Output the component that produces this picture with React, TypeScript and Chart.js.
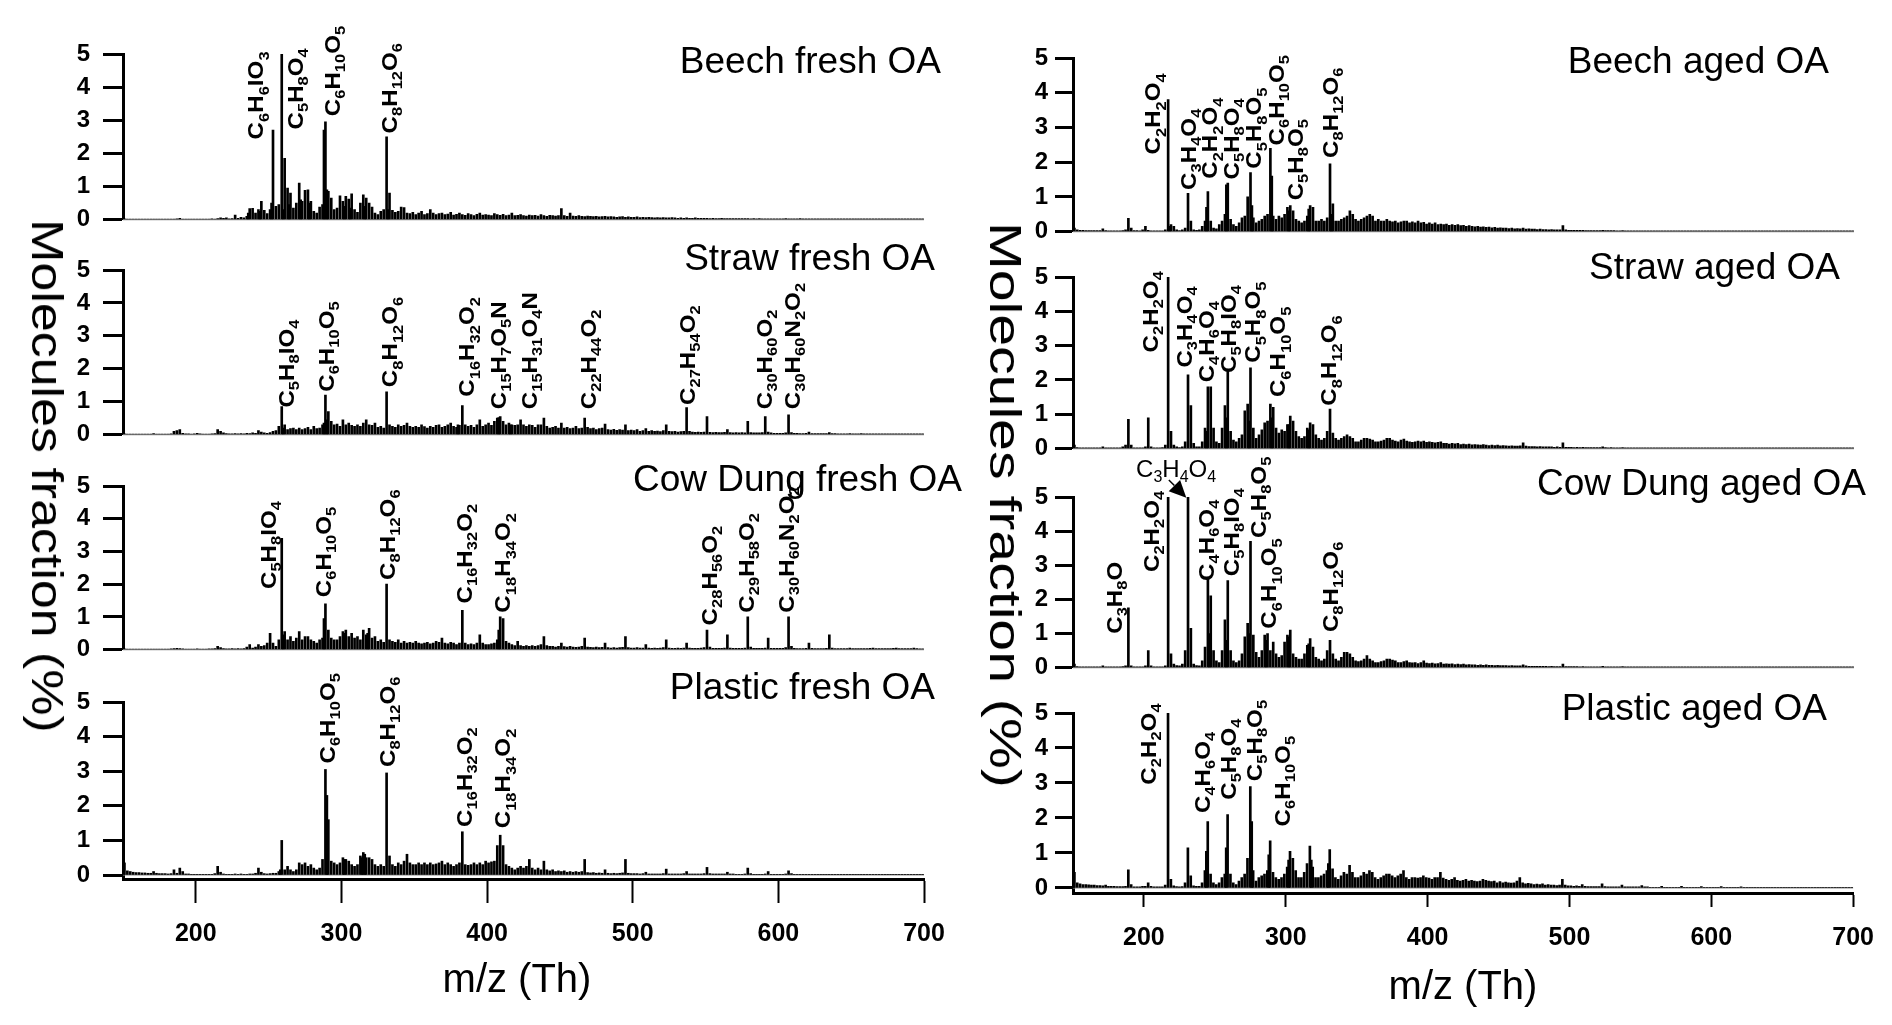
import React, { useEffect, useRef } from "react";
import { Chart, registerables } from "chart.js";
Chart.register(...registerables);

const FONT = "'Liberation Sans', Arial, Helvetica, sans-serif";
const FIRST_MZ = 151;
const ROW_SPAN = 50;
const STEP = 2;
const X_MIN = 150;
const X_MAX = 700;
const X_TICKS = [200, 300, 400, 500, 600, 700];
const Y_TICKS = [0, 1, 2, 3, 4, 5];

// ---- Beech fresh OA: odd m/z 151..699, rows of 50 Th ----
const beechFreshOdd = [
  [.02,.01,.01,.01,.01,.01,.01,.01,.01,.01,.01,.01,.01,.01,.01,.01,.01,.01,.02,.04,.01,.01,.01,.01,.01],
  [.01,.01,.01,.01,.01,.02,.01,.03,.05,.04,.05,.02,.03,.14,.04,.07,.05,.1,.33,.34,.2,.3,.55,.28,.18],
  [.3,2.7,.4,.45,5,1.85,.95,.8,.35,.5,1.1,.55,.88,.9,.55,.25,.2,.38,.45,2.95,.85,.65,.3,.35,.72],
  [.55,.7,.62,.78,.3,.22,.5,.75,.65,.5,.38,.2,.15,.25,.3,2.5,.8,.28,.22,.25,.38,.36,.2,.18,.22],
  [.15,.2,.25,.15,.18,.3,.2,.15,.18,.2,.15,.17,.22,.14,.16,.2,.15,.13,.18,.15,.12,.16,.2,.14,.15],
  [.14,.12,.18,.15,.13,.16,.12,.14,.2,.12,.13,.15,.12,.11,.14,.12,.13,.11,.15,.12,.1,.13,.12,.11,.12],
  [.33,.12,.1,.2,.11,.1,.12,.1,.09,.11,.1,.09,.1,.08,.09,.1,.08,.09,.08,.07,.08,.09,.07,.08,.07],
  [.07,.08,.06,.07,.06,.07,.06,.05,.06,.05,.06,.05,.05,.06,.05,.04,.05,.04,.05,.04,.04,.05,.04,.04,.04],
  [.04,.03,.04,.03,.03,.04,.03,.03,.03,.03,.03,.03,.03,.03,.03,.02,.03,.02,.03,.02,.02,.02,.02,.02,.02],
  [.02,.02,.03,.02,.02,.02,.02,.03,.02,.02,.02,.02,.02,.02,.02,.02,.02,.02,.02,.02,.02,.02,.02,.02,.02],
  [.02,.02,.02,.02,.02,.02,.02,.02,.02,.02,.02,.02,.02,.02,.02,.02,.02,.02,.02,.02,.02,.02,.02,.02,.02],
];
const beechFreshEven = [[236,.2],[244,.25],[252,.5],[260,.3],[264,.45],[272,.6],[278,.5],[288,2.7],[290,.9],[302,.4],[306,.35],[316,.4],[332,.3]];
const beechFreshLabels: [string, number, number][] = [
  ["C6H6IO3", 241, 2.42], ["C5H8O4", 268, 2.72], ["C6H10O5", 293.7, 3.12], ["C8H12O6", 332.6, 2.6],
];

// ---- Straw fresh OA ----
const strawFreshOdd = [
  [.02,.01,.01,.01,.01,.01,.01,.01,.01,.01,.03,.01,.01,.01,.01,.01,.02,.1,.12,.15,.04,.02,.02,.01,.02],
  [.04,.02,.01,.01,.01,.02,.03,.15,.1,.05,.03,.02,.02,.03,.02,.03,.02,.04,.03,.05,.04,.12,.08,.05,.04],
  [.06,.1,.12,.25,.85,.3,.15,.18,.2,.15,.2,.15,.18,.22,.15,.25,.18,.2,.3,1.2,.7,.4,.3,.32,.25],
  [.45,.3,.35,.28,.25,.3,.25,.35,.45,.3,.28,.35,.22,.25,.2,1.3,.3,.25,.22,.3,.25,.28,.35,.25,.22],
  [.25,.22,.3,.24,.2,.25,.22,.28,.3,.22,.25,.3,.35,.25,.22,.28,.88,.3,.25,.28,.22,.3,.45,.25,.3],
  [.35,.28,.4,.5,.55,.4,.3,.35,.3,.28,.3,.45,.3,.25,.3,.28,.22,.3,.3,.5,.25,.2,.22,.25,.2],
  [.35,.2,.22,.18,.2,.25,.18,.2,.5,.22,.18,.2,.15,.18,.2,.32,.15,.14,.16,.13,.15,.14,.3,.12,.14],
  [.12,.15,.1,.12,.18,.1,.12,.1,.11,.09,.12,.3,.1,.09,.1,.08,.09,.1,.82,.1,.08,.07,.08,.07,.08],
  [.55,.07,.06,.07,.06,.06,.07,.15,.06,.05,.06,.05,.06,.05,.4,.06,.05,.05,.05,.06,.55,.08,.05,.04,.04],
  [.04,.04,.05,.6,.06,.04,.04,.03,.03,.04,.08,.03,.03,.03,.03,.03,.03,.06,.03,.03,.02,.02,.02,.02,.03],
  [.02,.02,.02,.03,.02,.02,.02,.02,.02,.02,.02,.02,.02,.02,.02,.02,.02,.02,.02,.02,.02,.02,.02,.02,.02],
];
const strawFreshEven = [[260,.2],[288,.35],[290,.45],[380,.3],[408,.52],[416,.3]];
const strawFreshLabels: [string, number, number][] = [
  ["C5H8IO4", 262, 0.82], ["C6H10O5", 289.4, 1.3], ["C8H12O6", 332.9, 1.44], ["C16H32O2", 385.9, 1.15],
  ["C15H7O5N", 407.5, 0.77], ["C15H31O4N", 428.7, 0.77], ["C22H44O2", 469.2, 0.77], ["C27H54O2", 537.3, 0.9],
  ["C30H60O2", 590.3, 0.77], ["C30H60N2O2", 609.2, 0.77],
];

// ---- Cow Dung fresh OA ----
const cowFreshOdd = [
  [.02,.01,.01,.01,.01,.01,.01,.01,.01,.01,.01,.01,.01,.01,.01,.01,.02,.03,.04,.03,.02,.01,.01,.01,.01],
  [.02,.01,.01,.01,.02,.02,.03,.1,.06,.03,.02,.02,.03,.02,.03,.02,.03,.08,.15,.05,.08,.15,.1,.12,.2],
  [.5,.2,.1,.3,3.4,.55,.3,.4,.25,.35,.55,.3,.4,.4,.3,.25,.2,.3,.35,1.4,.6,.35,.3,.3,.4],
  [.55,.6,.4,.5,.35,.4,.3,.6,.45,.65,.35,.4,.25,.3,.22,2.0,.3,.25,.22,.3,.2,.25,.2,.22,.2],
  [.25,.2,.18,.2,.22,.18,.2,.25,.22,.35,.2,.18,.22,.2,.15,.2,1.2,.2,.15,.18,.15,.2,.45,.2,.15],
  [.15,.18,.2,.3,1.0,.95,.25,.2,.15,.12,.25,.12,.1,.12,.1,.12,.1,.12,.15,.4,.12,.1,.1,.08,.1],
  [.2,.09,.08,.1,.08,.07,.08,.1,.35,.08,.07,.06,.08,.06,.07,.2,.06,.05,.06,.05,.06,.07,.4,.06,.05],
  [.05,.06,.05,.05,.15,.05,.04,.05,.04,.05,.06,.3,.05,.04,.04,.05,.04,.05,.2,.05,.04,.04,.04,.05,.06],
  [.6,.08,.04,.04,.04,.04,.05,.45,.05,.04,.04,.04,.04,.05,1.0,.08,.04,.04,.04,.04,.05,.35,.04,.04,.04],
  [.04,.04,.06,1.0,.1,.04,.03,.03,.03,.04,.2,.04,.03,.03,.03,.03,.04,.45,.05,.03,.03,.03,.03,.03,.05],
  [.03,.03,.03,.03,.03,.03,.04,.05,.03,.03,.03,.03,.03,.03,.04,.05,.03,.03,.03,.03,.03,.05,.03,.02,.02],
];
const cowFreshEven = [[260,.45],[288,.95],[302,.5],[318,.5],[408,.6]];
const cowFreshLabels: [string, number, number][] = [
  ["C5H8IO4", 249.6, 1.85], ["C6H10O5", 287.5, 1.6], ["C8H12O6", 331, 2.13], ["C16H32O2", 384, 1.41],
  ["C18H34O2", 410.5, 1.13], ["C28H56O2", 552.5, 0.74], ["C29H58O2", 577.8, 1.13], ["C30H60N2O2", 605.4, 1.13],
];

// ---- Plastic fresh OA ----
const plasticFreshOdd = [
  [.35,.12,.1,.08,.07,.07,.06,.06,.05,.05,.1,.05,.04,.04,.04,.03,.04,.15,.05,.2,.1,.03,.03,.02,.02],
  [.02,.02,.02,.02,.02,.02,.04,.25,.08,.03,.02,.02,.02,.03,.02,.03,.02,.02,.03,.03,.05,.2,.08,.04,.03],
  [.04,.05,.05,.1,1.0,.15,.25,.15,.1,.15,.35,.3,.35,.25,.3,.2,.15,.2,.45,3.05,1.6,.4,.35,.3,.35],
  [.5,.45,.4,.3,.25,.3,.55,.65,.5,.5,.45,.3,.25,.3,.25,2.95,.55,.3,.25,.35,.3,.4,.6,.35,.3],
  [.3,.35,.3,.35,.3,.35,.3,.32,.35,.4,.3,.35,.3,.25,.3,.35,1.25,.3,.28,.3,.35,.3,.35,.3,.4],
  [.35,.38,.4,.85,1.15,.85,.3,.25,.2,.15,.2,.25,.2,.25,.45,.2,.15,.2,.15,.4,.15,.12,.15,.1,.12],
  [.1,.12,.08,.1,.08,.1,.08,.1,.45,.07,.06,.07,.05,.06,.05,.15,.05,.04,.05,.04,.05,.06,.45,.05,.04],
  [.04,.04,.03,.04,.08,.03,.03,.03,.03,.03,.04,.17,.03,.03,.03,.03,.03,.04,.1,.03,.03,.03,.03,.03,.04],
  [.22,.04,.03,.03,.03,.03,.03,.08,.03,.03,.02,.02,.02,.03,.2,.04,.02,.02,.02,.02,.03,.1,.02,.02,.02],
  [.02,.02,.03,.12,.04,.02,.02,.02,.02,.02,.02,.02,.02,.02,.02,.02,.02,.02,.02,.02,.02,.02,.02,.02,.02],
  [.02,.02,.02,.02,.02,.02,.02,.02,.02,.02,.02,.02,.02,.02,.02,.02,.02,.02,.02,.02,.02,.02,.02,.02,.02],
];
const plasticFreshEven = [[258,.15],[290,2.3],[302,.45],[314,.5],[316,.6]];
const plasticFreshLabels: [string, number, number][] = [
  ["C6H10O5", 290, 3.22], ["C8H12O6", 331, 3.12], ["C16H32O2", 384, 1.39], ["C18H34O2", 410.5, 1.35],
];

// ---- Beech aged OA ----
const beechAgedOdd = [
  [.1,.05,.04,.04,.03,.03,.03,.03,.03,.03,.08,.03,.02,.02,.02,.02,.02,.03,.05,.38,.1,.03,.03,.02,.05],
  [.15,.04,.02,.02,.02,.02,.02,.05,3.8,.2,.15,.05,.03,.05,.1,1.1,.3,.05,.04,.05,.15,.3,1.15,.3,.1],
  [.08,.2,.3,.5,1.4,.35,.2,.15,.25,.4,.45,1.0,1.7,.4,.25,.3,.35,.45,.5,2.4,.45,.35,.45,.4,.5],
  [.7,.75,.6,.35,.3,.25,.3,.45,.75,.7,.3,.3,.35,.3,.4,1.95,.8,.3,.3,.35,.4,.45,.6,.5,.35],
  [.3,.35,.4,.45,.5,.45,.3,.35,.3,.3,.35,.3,.28,.3,.25,.28,.3,.3,.25,.28,.25,.3,.25,.27,.22],
  [.25,.22,.25,.2,.22,.2,.22,.18,.2,.18,.2,.17,.18,.15,.17,.15,.14,.15,.13,.14,.12,.13,.11,.12,.1],
  [.11,.1,.1,.09,.1,.08,.09,.08,.1,.07,.08,.07,.07,.06,.07,.06,.06,.05,.06,.05,.05,.05,.17,.05,.04],
  [.04,.04,.04,.04,.04,.03,.03,.03,.03,.03,.03,.04,.03,.03,.03,.03,.02,.02,.03,.02,.02,.02,.02,.02,.02],
  [.02,.02,.02,.02,.02,.02,.02,.02,.02,.02,.02,.02,.02,.02,.02,.02,.02,.02,.02,.02,.02,.02,.02,.02,.02],
  [.02,.02,.02,.02,.02,.02,.02,.02,.02,.02,.02,.02,.02,.02,.02,.02,.02,.02,.02,.02,.02,.02,.02,.02,.02],
  [.02,.02,.02,.02,.02,.02,.02,.02,.02,.02,.02,.02,.02,.02,.02,.02,.02,.02,.02,.02,.02,.02,.02,.02,.02],
];
const beechAgedEven = [[218,.15],[244,.7],[258,1.35],[276,.75],[290,1.6],[302,.6],[316,.65],[332,.5]];
const beechAgedLabels: [string, number, number][] = [
  ["C2H2O4", 206, 2.22], ["C3H4O4", 231, 1.2], ["C2H2O4", 246, 1.52], ["C5H8O4", 261, 1.5],
  ["C5H8O5", 277, 1.81], ["C6H10O5", 293, 2.48], ["C5H8O5", 306.5, 0.9], ["C8H12O6", 331, 2.12],
];

// ---- Straw aged OA ----
const strawAgedOdd = [
  [.1,.03,.02,.02,.02,.02,.02,.02,.02,.02,.05,.02,.02,.02,.02,.02,.02,.05,.1,.85,.1,.02,.02,.02,.02],
  [.05,.9,.05,.02,.02,.02,.03,.1,5,.5,.1,.05,.03,.05,.2,2.15,1.25,.15,.05,.05,.2,.6,1.8,1.8,.6],
  [.2,.15,.6,1.25,2.3,.5,.25,.2,.3,.4,1.1,1.3,2.35,.6,.3,.4,.55,.75,.8,1.3,1.2,.6,.45,.55,.5],
  [.7,.95,.8,.5,.35,.3,.35,.6,.75,.7,.4,.3,.25,.3,.5,1.15,.45,.3,.25,.3,.35,.4,.35,.3,.2],
  [.2,.25,.3,.3,.28,.25,.2,.2,.22,.25,.3,.3,.25,.22,.2,.25,.28,.22,.2,.18,.2,.22,.2,.22,.18],
  [.2,.18,.17,.18,.2,.15,.15,.13,.15,.14,.15,.12,.13,.12,.13,.11,.12,.11,.1,.12,.1,.09,.1,.09,.1],
  [.08,.09,.08,.07,.08,.07,.07,.08,.17,.07,.06,.06,.06,.05,.06,.05,.05,.05,.05,.04,.05,.04,.17,.04,.04],
  [.04,.03,.04,.03,.04,.03,.03,.03,.03,.03,.03,.05,.03,.02,.03,.02,.02,.02,.03,.02,.02,.02,.02,.02,.02],
  [.02,.02,.02,.02,.02,.02,.02,.02,.02,.02,.02,.02,.02,.02,.02,.02,.02,.02,.02,.02,.02,.02,.02,.02,.02],
  [.02,.02,.02,.02,.02,.02,.02,.02,.02,.02,.02,.02,.02,.02,.02,.02,.02,.02,.02,.02,.02,.02,.02,.02,.02],
  [.02,.02,.02,.02,.02,.02,.02,.02,.02,.02,.02,.02,.02,.02,.02,.02,.02,.02,.02,.02,.02,.02,.02,.02,.02],
];
const strawAgedEven = [[244,.5],[258,.9],[274,.8],[290,.9],[302,.7],[316,.55]];
const strawAgedLabels: [string, number, number][] = [
  ["C2H2O4", 204.3, 2.8], ["C3H4O4", 228.3, 2.36], ["C4H6O4", 243.5, 1.93], ["C5H8IO4", 259.1, 2.2],
  ["C5H8O5", 276.3, 2.5], ["C6H10O5", 294, 1.5], ["C8H12O6", 329.9, 1.25],
];

// ---- Cow Dung aged OA ----
const cowAgedOdd = [
  [.1,.03,.02,.02,.02,.02,.02,.02,.02,.02,.05,.02,.02,.02,.02,.02,.02,.03,.05,1.75,.05,.02,.02,.02,.02],
  [.05,.5,.05,.02,.02,.02,.02,.05,5,.4,.1,.06,.05,.1,.5,5,1.15,.1,.06,.05,.2,.6,2.6,2.1,.5],
  [.2,.15,.5,1.4,2.55,.5,.2,.15,.2,.4,.9,1.3,3.7,.95,.45,.3,.5,.95,1.0,.5,.75,.4,.3,.35,.75],
  [.95,1.1,.4,.3,.25,.25,.4,.65,.85,.6,.3,.25,.2,.25,.5,.8,.4,.25,.2,.3,.45,.45,.4,.3,.2],
  [.18,.2,.25,.35,.25,.2,.15,.15,.18,.2,.25,.25,.22,.2,.15,.15,.18,.2,.15,.14,.15,.12,.15,.2,.13],
  [.12,.13,.11,.12,.15,.1,.11,.1,.11,.09,.1,.09,.1,.08,.09,.08,.08,.07,.08,.07,.08,.07,.07,.06,.07],
  [.06,.06,.06,.05,.06,.05,.05,.05,.08,.05,.04,.04,.04,.04,.04,.04,.04,.03,.04,.03,.03,.03,.1,.03,.03],
  [.03,.03,.03,.02,.03,.02,.02,.02,.02,.02,.02,.04,.02,.02,.02,.02,.02,.02,.03,.02,.02,.02,.02,.02,.02],
  [.02,.02,.02,.02,.02,.02,.02,.02,.02,.02,.02,.02,.02,.02,.02,.02,.02,.02,.02,.02,.02,.02,.02,.02,.02],
  [.02,.02,.02,.02,.02,.02,.02,.02,.02,.02,.02,.02,.02,.02,.02,.02,.02,.02,.02,.02,.02,.02,.02,.02,.02],
  [.02,.02,.02,.02,.02,.02,.02,.02,.02,.02,.02,.02,.02,.02,.02,.02,.02,.02,.02,.02,.02,.02,.02,.02,.02],
];
const cowAgedEven = [[246,1.0],[258,.8],[274,1.0],[286,.8],[302,.9],[316,.7]];
const cowAgedLabels: [string, number, number][] = [
  ["C3H8O", 179, 0.99], ["C2H2O4", 205, 2.8], ["C4H6O4", 243.5, 2.54], ["C5H8IO4", 261.2, 2.68],
  ["C5H8O5", 280.1, 3.8], ["C6H10O5", 287.7, 1.14], ["C8H12O6", 330.7, 1.04],
];
// horizontal note with arrow: [text, centre m/z, baseline value], arrow [from m/z, from value, to m/z, to value]
const cowAgedNote: [string, number, number] = ["C3H4O4", 222.6, 5.6];
const cowAgedArrow = [217.5, 5.5, 229.8, 4.98];

// ---- Plastic aged OA ----
const plasticAgedOdd = [
  [.45,.15,.12,.1,.1,.09,.08,.08,.07,.07,.06,.08,.05,.05,.05,.04,.04,.04,.05,.52,.1,.03,.03,.03,.05],
  [.05,.15,.05,.03,.03,.03,.03,.08,5,.25,.06,.04,.03,.04,.15,1.15,.35,.06,.05,.05,.15,.5,1.9,.4,.15],
  [.1,.15,.3,.4,2.1,.4,.15,.1,.2,.3,.4,.85,2.9,.5,.2,.3,.35,.4,.5,1.35,.45,.3,.25,.3,.4],
  [.6,1.05,.85,.5,.3,.3,.45,.7,1.2,.6,.3,.3,.35,.4,.5,1.1,.55,.3,.25,.35,.45,.4,.65,.45,.3],
  [.3,.35,.45,.4,.5,.45,.3,.25,.3,.35,.4,.4,.35,.3,.35,.4,.5,.3,.25,.3,.3,.28,.3,.35,.3],
  [.28,.25,.3,.3,.45,.28,.25,.22,.25,.3,.22,.2,.22,.25,.2,.22,.2,.18,.2,.25,.22,.2,.18,.2,.15],
  [.18,.15,.17,.15,.14,.15,.2,.3,.15,.12,.13,.12,.1,.11,.1,.12,.08,.1,.08,.08,.07,.08,.25,.08,.06],
  [.06,.05,.06,.05,.1,.05,.04,.04,.04,.04,.04,.12,.04,.03,.03,.03,.03,.03,.08,.03,.03,.03,.03,.03,.03],
  [.07,.03,.03,.02,.02,.02,.02,.05,.02,.02,.02,.02,.02,.02,.05,.02,.02,.02,.02,.02,.02,.04,.02,.02,.02],
  [.02,.02,.02,.04,.02,.02,.02,.02,.02,.02,.03,.02,.02,.02,.02,.02,.02,.02,.02,.02,.02,.02,.02,.02,.02],
  [.02,.02,.02,.02,.02,.02,.02,.02,.02,.02,.02,.02,.02,.02,.02,.02,.02,.02,.02,.02,.02,.02,.02,.02,.02],
];
const plasticAgedEven = [[150,.3],[244,1.05],[258,1.15],[276,1.9],[288,.95],[302,.8],[318,.8],[330,.7]];
const plasticAgedLabels: [string, number, number][] = [
  ["C2H2O4", 202.9, 2.95], ["C4H6O4", 241.1, 2.14], ["C5H8O4", 259.2, 2.52], ["C5H8O5", 277.4, 3.05],
  ["C6H10O5", 297.5, 1.76],
];

// ---------------- layout ----------------
const YW = 100, PT = 60, PB = 20, XH = 120;
const SIDES: any = {
  L: { l: 123, r: 924, yTick: 20, yPad: 13, xTick: 24, xPad: 16, pr: 50 },
  R: { l: 1073, r: 1854, yTick: 18, yPad: 7, xTick: 14, xPad: 16, pr: 36 },
};

const PANELS = [
  { key: "bf", side: "L", t: 54, b: 227, bottom: false, yMin: 0, title: "Beech fresh OA", tx: 941, ty: 73, odd: beechFreshOdd, even: beechFreshEven, labels: beechFreshLabels },
  { key: "sf", side: "L", t: 270, b: 442, bottom: false, yMin: 0, title: "Straw fresh OA", tx: 935, ty: 270, odd: strawFreshOdd, even: strawFreshEven, labels: strawFreshLabels },
  { key: "cf", side: "L", t: 486, b: 657, bottom: false, yMin: 0, title: "Cow Dung fresh OA", tx: 962, ty: 491, odd: cowFreshOdd, even: cowFreshEven, labels: cowFreshLabels },
  { key: "pf", side: "L", t: 702, b: 879, bottom: true, yMin: -0.1156, title: "Plastic fresh OA", tx: 935, ty: 699, odd: plasticFreshOdd, even: plasticFreshEven, labels: plasticFreshLabels },
  { key: "ba", side: "R", t: 58, b: 233, bottom: false, yMin: 0, title: "Beech aged OA", tx: 1829, ty: 73, odd: beechAgedOdd, even: beechAgedEven, labels: beechAgedLabels },
  { key: "sa", side: "R", t: 277, b: 450, bottom: false, yMin: 0, title: "Straw aged OA", tx: 1840, ty: 279, odd: strawAgedOdd, even: strawAgedEven, labels: strawAgedLabels },
  { key: "ca", side: "R", t: 497, b: 669, bottom: false, yMin: 0, title: "Cow Dung aged OA", tx: 1866, ty: 495, odd: cowAgedOdd, even: cowAgedEven, labels: cowAgedLabels, note: cowAgedNote, arrow: cowAgedArrow },
  { key: "pa", side: "R", t: 713, b: 893, bottom: true, yMin: -0.143, title: "Plastic aged OA", tx: 1827, ty: 720, odd: plasticAgedOdd, even: plasticAgedEven, labels: plasticAgedLabels },
];

function toPoints(rows: number[][], extra: number[][]) {
  const pts: { x: number; y: number }[] = [];
  rows.forEach((row, r) => row.forEach((v, i) => pts.push({ x: FIRST_MZ + r * ROW_SPAN + i * STEP, y: v })));
  extra.forEach(([x, y]) => pts.push({ x, y }));
  pts.sort((a, b) => a.x - b.x);
  return pts;
}

function drawFormula(ctx: CanvasRenderingContext2D, text: string, px: number, py: number, rotated: boolean, bold: boolean, size: number, subSize: number, stretch: number) {
  const parts = text.match(/[A-Z][a-z]?|\d+/g) || [];
  const w = bold ? "bold " : "";
  const mainFont = `${w}${size}px ${FONT}`;
  const subFont = `${w}${subSize}px ${FONT}`;
  ctx.save();
  ctx.translate(px, py);
  if (rotated) ctx.rotate(-Math.PI / 2);
  ctx.scale(stretch, 1);
  ctx.fillStyle = "#000";
  ctx.textBaseline = "alphabetic";
  ctx.textAlign = "left";
  let total = 0;
  for (const p of parts) {
    ctx.font = /\d/.test(p) ? subFont : mainFont;
    total += ctx.measureText(p).width;
  }
  let cx = rotated ? 0 : -total / 2;
  const base = rotated ? size * 0.36 : 0;
  for (const p of parts) {
    const isSub = /\d/.test(p);
    ctx.font = isSub ? subFont : mainFont;
    ctx.fillText(p, cx, base + (isSub ? size * 0.24 : 0));
    cx += ctx.measureText(p).width;
  }
  ctx.restore();
}

const decoPlugin = {
  id: "deco",
  beforeDatasetsDraw(chart: any) {
    const { ctx } = chart;
    const xs = chart.scales.x, ys = chart.scales.y;
    const y0 = ys.getPixelForValue(0);
    ctx.save();
    ctx.strokeStyle = "#8a8a8a";
    ctx.lineWidth = 1.2;
    ctx.beginPath();
    ctx.moveTo(xs.getPixelForValue(X_MIN), y0);
    ctx.lineTo(xs.getPixelForValue(X_MAX), y0);
    ctx.stroke();
    ctx.restore();
  },
  afterDatasetsDraw(chart: any, _a: any, opts: any) {
    const { ctx } = chart;
    const xs = chart.scales.x, ys = chart.scales.y;
    for (const [f, mx, my] of opts.labels) {
      drawFormula(ctx, f, xs.getPixelForValue(mx), ys.getPixelForValue(my), true, true, 22, 15, 1.1);
    }
    if (opts.note) {
      const [f, mx, my] = opts.note;
      drawFormula(ctx, f, xs.getPixelForValue(mx), ys.getPixelForValue(my), false, false, 24, 16, 1);
    }
    if (opts.arrow) {
      const [fx, fy, tx, ty] = opts.arrow;
      const x1 = xs.getPixelForValue(fx), y1 = ys.getPixelForValue(fy);
      const x2 = xs.getPixelForValue(tx), y2 = ys.getPixelForValue(ty);
      const ang = Math.atan2(y2 - y1, x2 - x1);
      const L = 17, H = 8;
      ctx.save();
      ctx.strokeStyle = "#000";
      ctx.fillStyle = "#000";
      ctx.lineWidth = 1.5;
      ctx.beginPath();
      ctx.moveTo(x1, y1);
      ctx.lineTo(x2 - L * Math.cos(ang), y2 - L * Math.sin(ang));
      ctx.stroke();
      ctx.beginPath();
      ctx.moveTo(x2, y2);
      ctx.lineTo(x2 - L * Math.cos(ang) + H * Math.sin(ang), y2 - L * Math.sin(ang) - H * Math.cos(ang));
      ctx.lineTo(x2 - L * Math.cos(ang) - H * Math.sin(ang), y2 - L * Math.sin(ang) + H * Math.cos(ang));
      ctx.closePath();
      ctx.fill();
      ctx.restore();
    }
    ctx.save();
    ctx.font = `37px ${FONT}`;
    ctx.fillStyle = "#000";
    ctx.textAlign = "right";
    ctx.textBaseline = "alphabetic";
    ctx.fillText(opts.title, opts.tx, opts.ty);
    ctx.restore();
  },
};

function Panel({ cfg }: { cfg: any }) {
  const ref = useRef<HTMLCanvasElement>(null);
  const s = SIDES[cfg.side];
  const left = s.l - YW;
  const top = cfg.t - PT;
  const width = s.r - s.l + YW + s.pr;
  const height = cfg.b - cfg.t + PT + (cfg.bottom ? XH : PB);

  useEffect(() => {
    const chart = new Chart(ref.current as HTMLCanvasElement, {
      type: "bar",
      data: {
        datasets: [
          {
            data: toPoints(cfg.odd, cfg.even) as any,
            backgroundColor: "#000",
            borderWidth: 0,
            barThickness: 2,
            grouped: false,
          } as any,
        ],
      },
      plugins: [decoPlugin as any],
      options: {
        animation: false,
        responsive: false,
        events: [],
        layout: { padding: { left: 0, top: PT, right: s.pr, bottom: cfg.bottom ? 0 : PB } },
        plugins: {
          legend: { display: false },
          tooltip: { enabled: false },
          deco: {
            labels: cfg.labels,
            note: cfg.note,
            arrow: cfg.arrow,
            title: cfg.title,
            tx: cfg.tx - left,
            ty: cfg.ty - top,
          },
        } as any,
        scales: {
          x: {
            type: "linear",
            min: X_MIN,
            max: X_MAX,
            offset: false,
            display: cfg.bottom,
            position: "bottom",
            afterBuildTicks: (sc: any) => { sc.ticks = X_TICKS.map((v) => ({ value: v })); },
            afterFit: (sc: any) => { sc.height = cfg.bottom ? XH : 0; },
            ticks: { color: "#000", font: { family: FONT, size: 25, weight: "bold" }, padding: s.xPad, maxRotation: 0, autoSkip: false },
            grid: { offset: false, drawOnChartArea: false, drawTicks: true, tickLength: s.xTick, tickWidth: 2, tickColor: "#000", color: "#000" },
            border: { display: true, color: "#000", width: 3 },
          } as any,
          y: {
            type: "linear",
            min: cfg.yMin,
            max: 5,
            afterBuildTicks: (sc: any) => { sc.ticks = Y_TICKS.map((v) => ({ value: v })); },
            afterFit: (sc: any) => { sc.width = YW; },
            ticks: { color: "#000", font: { family: FONT, size: 24, weight: "bold" }, padding: s.yPad, autoSkip: false },
            grid: { offset: false, drawOnChartArea: false, drawTicks: true, tickLength: s.yTick, tickWidth: 3, tickColor: "#000", color: "#000" },
            border: { display: true, color: "#000", width: 3 },
          } as any,
        },
      },
    });
    return () => chart.destroy();
  }, []);

  return (
    <canvas
      ref={ref}
      width={width}
      height={height}
      style={{ position: "absolute", left, top, width, height }}
    />
  );
}

function rotTitle(x: number, y: number, sx: number): React.CSSProperties {
  return {
    position: "absolute",
    left: x,
    top: y,
    transform: `translate(-50%, -50%) rotate(90deg) scaleX(${sx})`,
    fontSize: 44,
    lineHeight: 1,
    whiteSpace: "nowrap",
    color: "#000",
  };
}

function xTitle(x: number, y: number): React.CSSProperties {
  return {
    position: "absolute",
    left: x,
    top: y,
    transform: "translate(-50%, -50%)",
    fontSize: 40,
    lineHeight: 1,
    whiteSpace: "nowrap",
    color: "#000",
  };
}

export default function App() {
  return (
    <div
      style={{
        position: "absolute",
        left: 0,
        top: 0,
        width: 1892,
        height: 1025,
        overflow: "hidden",
        background: "#fff",
        fontFamily: FONT,
      }}
    >
      {PANELS.map((p) => (
        <Panel key={p.key} cfg={p} />
      ))}
      <div style={rotTitle(47, 476, 1.18)}>Molecules fraction (%)</div>
      <div style={rotTitle(1005, 505, 1.3)}>Molecules fraction (%)</div>
      <div style={xTitle(517, 978)}>m/z (Th)</div>
      <div style={xTitle(1463, 985)}>m/z (Th)</div>
    </div>
  );
}
